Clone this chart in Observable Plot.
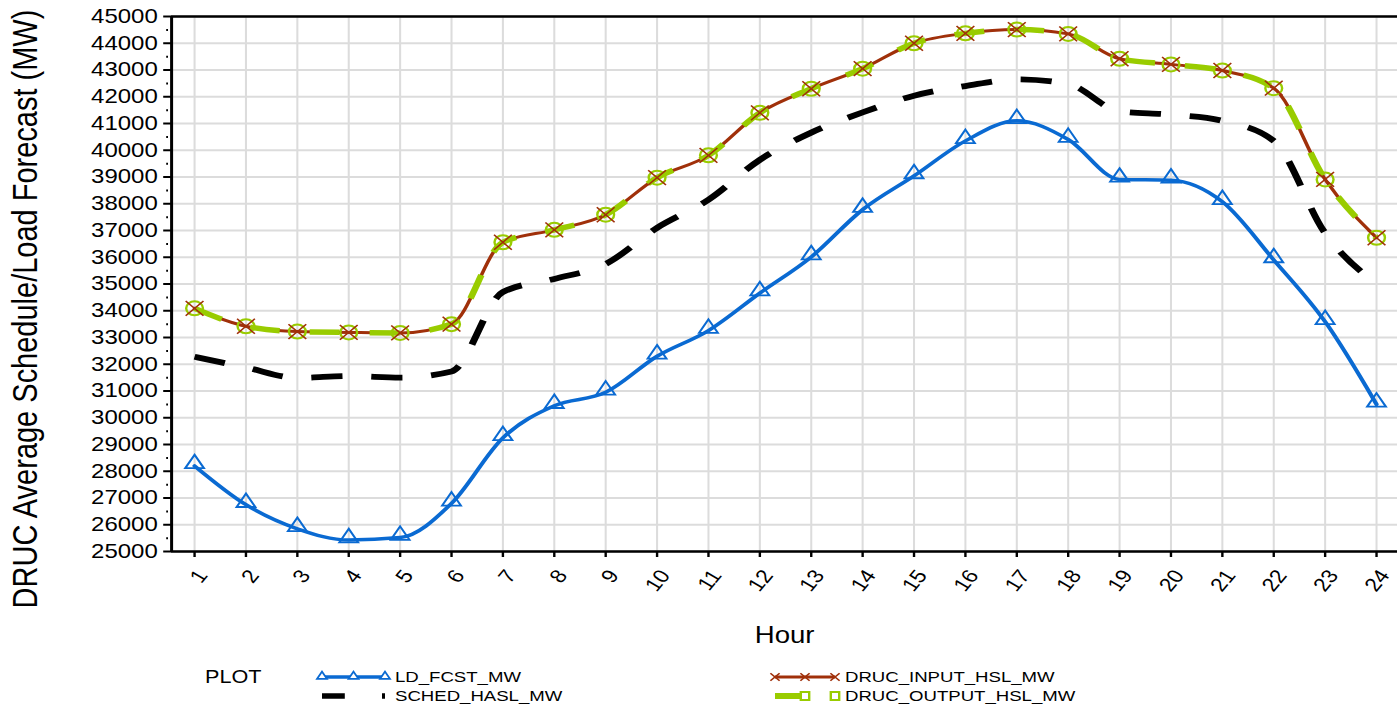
<!DOCTYPE html>
<html>
<head>
<meta charset="utf-8">
<script src="https://cdn.jsdelivr.net/npm/d3@7"></script>
<script src="https://cdn.jsdelivr.net/npm/@observablehq/plot@0.6"></script>
<style>
  html, body { margin: 0; padding: 0; background: #fff; }
  #chart svg, #legend svg { display: block; }
</style>
</head>
<body>
<div id="chart"></div>
<div id="legend"></div>
<script>
// ---- data ----
const hours = [1, 2, 3, 4, 5, 6, 7, 8, 9, 10, 11, 12, 13, 14, 15, 16, 17, 18, 19, 20, 21, 22, 23, 24];
const ldFcstMw = [28200, 26750, 25850, 25430, 25520, 26800, 29250, 30450, 30950, 32300, 33260, 34660,
                  36010, 37780, 39040, 40350, 41100, 40400, 38910, 38880, 38075, 35900, 33590, 30500];
const schedHaslMw = [32280, 31880, 31490, 31560, 31500, 31730, 34700, 35190, 35750, 37100, 38150, 39640,
                     40660, 41415, 42040, 42400, 42650, 42480, 41450, 41330, 41100, 40350, 36900, 35000];
const drucInputHslMw = [34090, 33420, 33220, 33190, 33170, 33500, 36560, 37025, 37590, 38975, 39810, 41400,
                        42300, 43050, 44000, 44370, 44510, 44350, 43420, 43210, 42980, 42320, 38910, 36730];
const drucOutputHslMw = [34090, 33420, 33220, 33190, 33170, 33500, 36560, 37025, 37590, 38975, 39810, 41400,
                         42300, 43050, 44000, 44370, 44510, 44350, 43420, 43210, 42980, 42320, 38910, 36730];
const yTicks = [25000, 26000, 27000, 28000, 29000, 30000, 31000, 32000, 33000, 34000, 35000,
                36000, 37000, 38000, 39000, 40000, 41000, 42000, 43000, 44000, 45000];
const xTickLabels = ["1","2","3","4","5","6","7","8","9","10","11","12","13","14","15","16","17","18","19","20","21","22","23","24"];
const seriesNames = ["LD_FCST_MW", "SCHED_HASL_MW", "DRUC_INPUT_HSL_MW", "DRUC_OUTPUT_HSL_MW"];
const seriesColors = ["#0a6ad2", "#000000", "#a0300a", "#99cc00"];
const yTitle = "DRUC Average Schedule/Load Forecast (MW)";
const xTitle = "Hour";
const legendTitle = "PLOT";

// ---- layout (the picture is stretched horizontally) ----
const FINAL_W = 1397, SX = 1.2;
const W = FINAL_W / SX;           // drawing units
const H = 655;
const xDomain = [0.553, 24.41];
const yDomain = [25000, 45000];
const minorTicks = d3.range(25500, 45000, 1000);
const font = "Liberation Sans, Arial, Helvetica, sans-serif";
const curve = "monotone-x";
const schedDash = "26,24", outDash = "25,25";

const rows = (vals) => hours.map((h, i) => ({hour: h, value: vals[i]}));
const ld = rows(ldFcstMw), sched = rows(schedHaslMw), dIn = rows(drucInputHslMw), dOut = rows(drucOutputHslMw);

const plot = Plot.plot({
  width: W, height: H,
  marginTop: 16, marginBottom: H - 551, marginLeft: 171 / SX, marginRight: 0,
  style: {fontFamily: font, background: "white", color: "black"},
  x: {domain: xDomain, axis: null},
  y: {domain: yDomain, axis: null},
  marks: [
    Plot.ruleX(hours, {stroke: "#dcdcdc", strokeWidth: 1.7}),
    Plot.ruleY(yTicks, {stroke: "#dcdcdc", strokeWidth: 2}),
    Plot.ruleY([yDomain[1]], {stroke: "black", strokeWidth: 2.5}),
    Plot.ruleY([yDomain[0]], {stroke: "black", strokeWidth: 2.5}),
    Plot.ruleX([xDomain[0]], {stroke: "black", strokeWidth: 2.5}),
    Plot.axisY({ticks: yTicks, tickFormat: d3.format("d"), fontSize: 20, tickSize: 6.5, tickPadding: 5,
                strokeWidth: 2, label: null}),
    Plot.axisY({ticks: minorTicks, text: null, tickSize: 1.5, dx: -2.5, strokeWidth: 2, label: null}),
    Plot.axisX({ticks: hours, text: null, tickSize: 6, strokeWidth: 2, label: null}),
    Plot.text(hours, {x: d => d, text: (d, i) => xTickLabels[i], frameAnchor: "bottom", rotate: -55,
                      textAnchor: "end", lineAnchor: "bottom", dx: 11.7, dy: 24, fontSize: 19}),
    Plot.text([xTitle], {frameAnchor: "bottom", dy: 84, lineAnchor: "middle", fontSize: 23}),
    Plot.text([yTitle], {frameAnchor: "left", rotate: -90, textAnchor: "middle", dx: -(171 - 25) / SX, dy: 25,
                         lineAnchor: "middle", fontSize: 29}),
    // series lines
    Plot.line(sched, {x: "hour", y: "value", stroke: seriesColors[1], strokeWidth: 5.8,
                      strokeDasharray: schedDash, strokeLinecap: "butt", curve}),
    Plot.line(ld, {x: "hour", y: "value", stroke: seriesColors[0], strokeWidth: 3.5, curve}),
    Plot.line(dIn, {x: "hour", y: "value", stroke: seriesColors[2], strokeWidth: 3, curve}),
    Plot.line(dOut, {x: "hour", y: "value", stroke: seriesColors[3], strokeWidth: 5.5,
                     strokeDasharray: outDash, strokeLinecap: "butt", curve}),
    // markers
    Plot.dot(ld, {x: "hour", y: "value", symbol: "triangle", r: 5.8, dy: -2.2, fill: "none",
                  stroke: seriesColors[0], strokeWidth: 1.8}),
    Plot.dot(dOut, {x: "hour", y: "value", symbol: "circle", r: 7, fill: "none",
                    stroke: seriesColors[3], strokeWidth: 2}),
    Plot.dot(dIn, {x: "hour", y: "value", symbol: "times", r: 6.8, fill: "none",
                   stroke: seriesColors[2], strokeWidth: 1.4})
  ]
});
plot.setAttribute("preserveAspectRatio", "none");
plot.setAttribute("width", FINAL_W);
plot.setAttribute("height", H);
plot.style.width = FINAL_W + "px";
plot.style.height = H + "px";
plot.style.maxWidth = "none";
document.getElementById("chart").appendChild(plot);

// ---- legend (below the chart, same horizontal stretch) ----
const LH = 56;
const lg = d3.select("#legend").append("svg")
  .attr("viewBox", `0 0 ${W} ${LH}`).attr("preserveAspectRatio", "none")
  .attr("width", FINAL_W).attr("height", LH)
  .style("width", FINAL_W + "px").style("height", LH + "px")
  .style("font-family", font);
const r1 = 22, r2 = 41;
lg.append("text").attr("x", 205 / SX).attr("y", r1).attr("dy", "0.35em").attr("font-size", 18).text(legendTitle);
const items = [
  {x0: 322 / SX, x1: 385 / SX, y: r1, i: 0},
  {x0: 322 / SX, x1: 385 / SX, y: r2, i: 1},
  {x0: 775 / SX, x1: 835 / SX, y: r1, i: 2},
  {x0: 775 / SX, x1: 835 / SX, y: r2, i: 3}
];
items.forEach(it => {
  const c = seriesColors[it.i];
  const ln = lg.append("line").attr("x1", it.x0).attr("x2", it.x1).attr("y1", it.y).attr("y2", it.y).attr("stroke", c);
  const mids = [it.x0, (it.x0 + it.x1) / 2, it.x1];
  if (it.i === 0) {
    ln.attr("stroke-width", 3.5);
    mids.forEach(m => lg.append("path").attr("d", d3.symbol(d3.symbolTriangle, 30)())
      .attr("transform", `translate(${m},${it.y - 0.5})`).attr("fill", "white").attr("stroke", c).attr("stroke-width", 1.6));
  } else if (it.i === 1) {
    ln.attr("stroke-width", 5.5).attr("stroke-dasharray", "19,31");
  } else if (it.i === 2) {
    ln.attr("stroke-width", 3);
    mids.forEach(m => lg.append("path").attr("d", d3.symbol(d3.symbolTimes, 40)())
      .attr("transform", `translate(${m},${it.y})`).attr("fill", "none").attr("stroke", c).attr("stroke-width", 1.4));
  } else {
    ln.attr("stroke-width", 6).attr("stroke-dasharray", "29,40");
    lg.append("rect").attr("x", it.x1 - 3.5).attr("y", it.y - 4).attr("width", 7).attr("height", 8)
      .attr("fill", "white").attr("stroke", c).attr("stroke-width", 2);
    lg.append("rect").attr("x", (it.x0 + it.x1) / 2 - 3.5).attr("y", it.y - 4).attr("width", 7).attr("height", 8)
      .attr("fill", "white").attr("stroke", c).attr("stroke-width", 2);
  }
  lg.append("text").attr("x", (it.i < 2 ? 395 : 845) / SX).attr("y", it.y).attr("dy", "0.35em")
    .attr("font-size", 15.5).text(seriesNames[it.i]);
});
</script>
</body>
</html>
